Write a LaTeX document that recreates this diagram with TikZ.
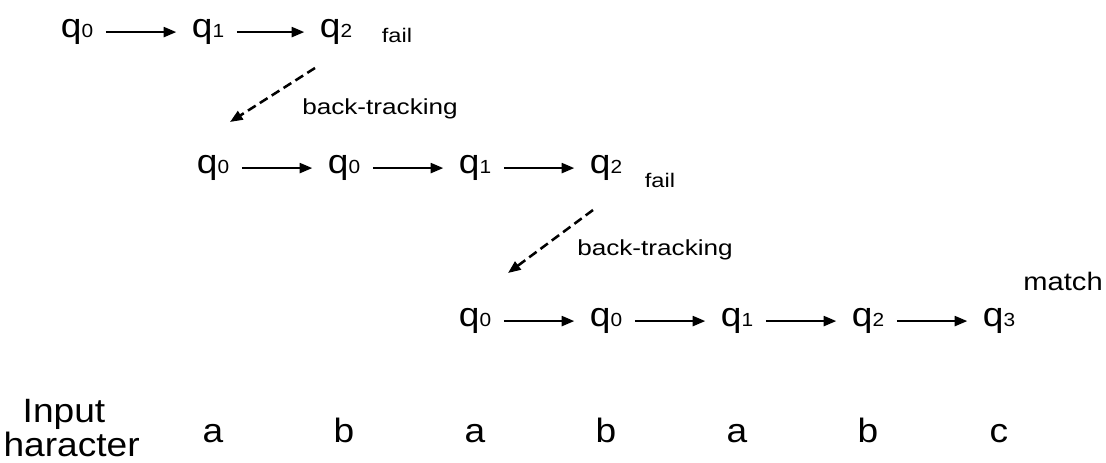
\documentclass[tikz,border=0pt]{standalone}
\usepackage{fontspec}
\setmainfont{Liberation Sans}
\usetikzlibrary{arrows.meta}
\newcommand{\qst}[1]{q{\fontsize{13.5}{15}\selectfont #1}}

\begin{document}
\begin{tikzpicture}[
  >={Triangle[length=9pt,width=7pt]},
  stnode/.style={anchor=base,xscale=1.1,inner xsep=8pt,inner ysep=0pt,text height=15pt,text depth=8pt,font=\fontsize{24}{28}\selectfont},
  chr/.style={anchor=base,xscale=1.1,inner sep=0pt,font=\fontsize{24}{28}\selectfont},
  note/.style={anchor=base,xscale=1.2,inner sep=0pt,font=\fontsize{14}{16}\selectfont},
  trk/.style={anchor=base,xscale=1.2,inner sep=0pt,font=\fontsize{15.5}{18}\selectfont},
  go/.style={->,line width=1.8pt,shorten >=2pt},
  back/.style={->,line width=1.8pt,dash pattern=on 6.5pt off 3.5pt}
]
\useasboundingbox (0,0) rectangle (27.65,-11.575);

% first try
\node[stnode] (a0) at (1.925,-0.925) {\qst{0}};
\node[stnode] (a1) at (5.2,-0.925) {\qst{1}};
\node[stnode] (a2) at (8.4,-0.925) {\qst{2}};
\node[note] (fail1) at (9.925,-1.05) {fail};
\draw[go] (a0) -- (a1);
\draw[go] (a1) -- (a2);

\coordinate (bk1s) at (7.875,-1.7);
\coordinate (bk1e) at (5.75,-3.05);
\draw[back] (bk1s) -- (bk1e);
\node[trk] (trk1) at (9.5,-2.85) {back-tracking};

% second try
\node[stnode] (b0) at (5.325,-4.325) {\qst{0}};
\node[stnode] (b1) at (8.6,-4.325) {\qst{0}};
\node[stnode] (b2) at (11.875,-4.325) {\qst{1}};
\node[stnode] (b3) at (15.15,-4.325) {\qst{2}};
\node[note] (fail2) at (16.5,-4.675) {fail};
\draw[go] (b0) -- (b1);
\draw[go] (b1) -- (b2);
\draw[go] (b2) -- (b3);

\coordinate (bk2s) at (14.825,-5.25);
\coordinate (bk2e) at (12.7,-6.825);
\draw[back] (bk2s) -- (bk2e);
\node[trk] (trk2) at (16.375,-6.375) {back-tracking};

% third try
\node[font=\fontsize{18}{21}\selectfont,anchor=base east,xscale=1.15,inner sep=0pt] (match) at (27.575,-7.25) {match};
\node[stnode] (c0) at (11.875,-8.15) {\qst{0}};
\node[stnode] (c1) at (15.15,-8.15) {\qst{0}};
\node[stnode] (c2) at (18.425,-8.15) {\qst{1}};
\node[stnode] (c3) at (21.7,-8.15) {\qst{2}};
\node[stnode] (c4) at (24.975,-8.15) {\qst{3}};
\draw[go] (c0) -- (c1);
\draw[go] (c1) -- (c2);
\draw[go] (c2) -- (c3);
\draw[go] (c3) -- (c4);

% input row
\node[chr] (inp) at (1.6,-10.55) {Input};
\node[chr,anchor=base west] (chrs) at (0.08,-11.42) {haracter};
\node[chr] (ch0) at (5.325,-11.05) {a};
\node[chr] (ch1) at (8.6,-11.05) {b};
\node[chr] (ch2) at (11.875,-11.05) {a};
\node[chr] (ch3) at (15.15,-11.05) {b};
\node[chr] (ch4) at (18.425,-11.05) {a};
\node[chr] (ch5) at (21.7,-11.05) {b};
\node[chr] (ch6) at (24.975,-11.05) {c};
\end{tikzpicture}
\end{document}
